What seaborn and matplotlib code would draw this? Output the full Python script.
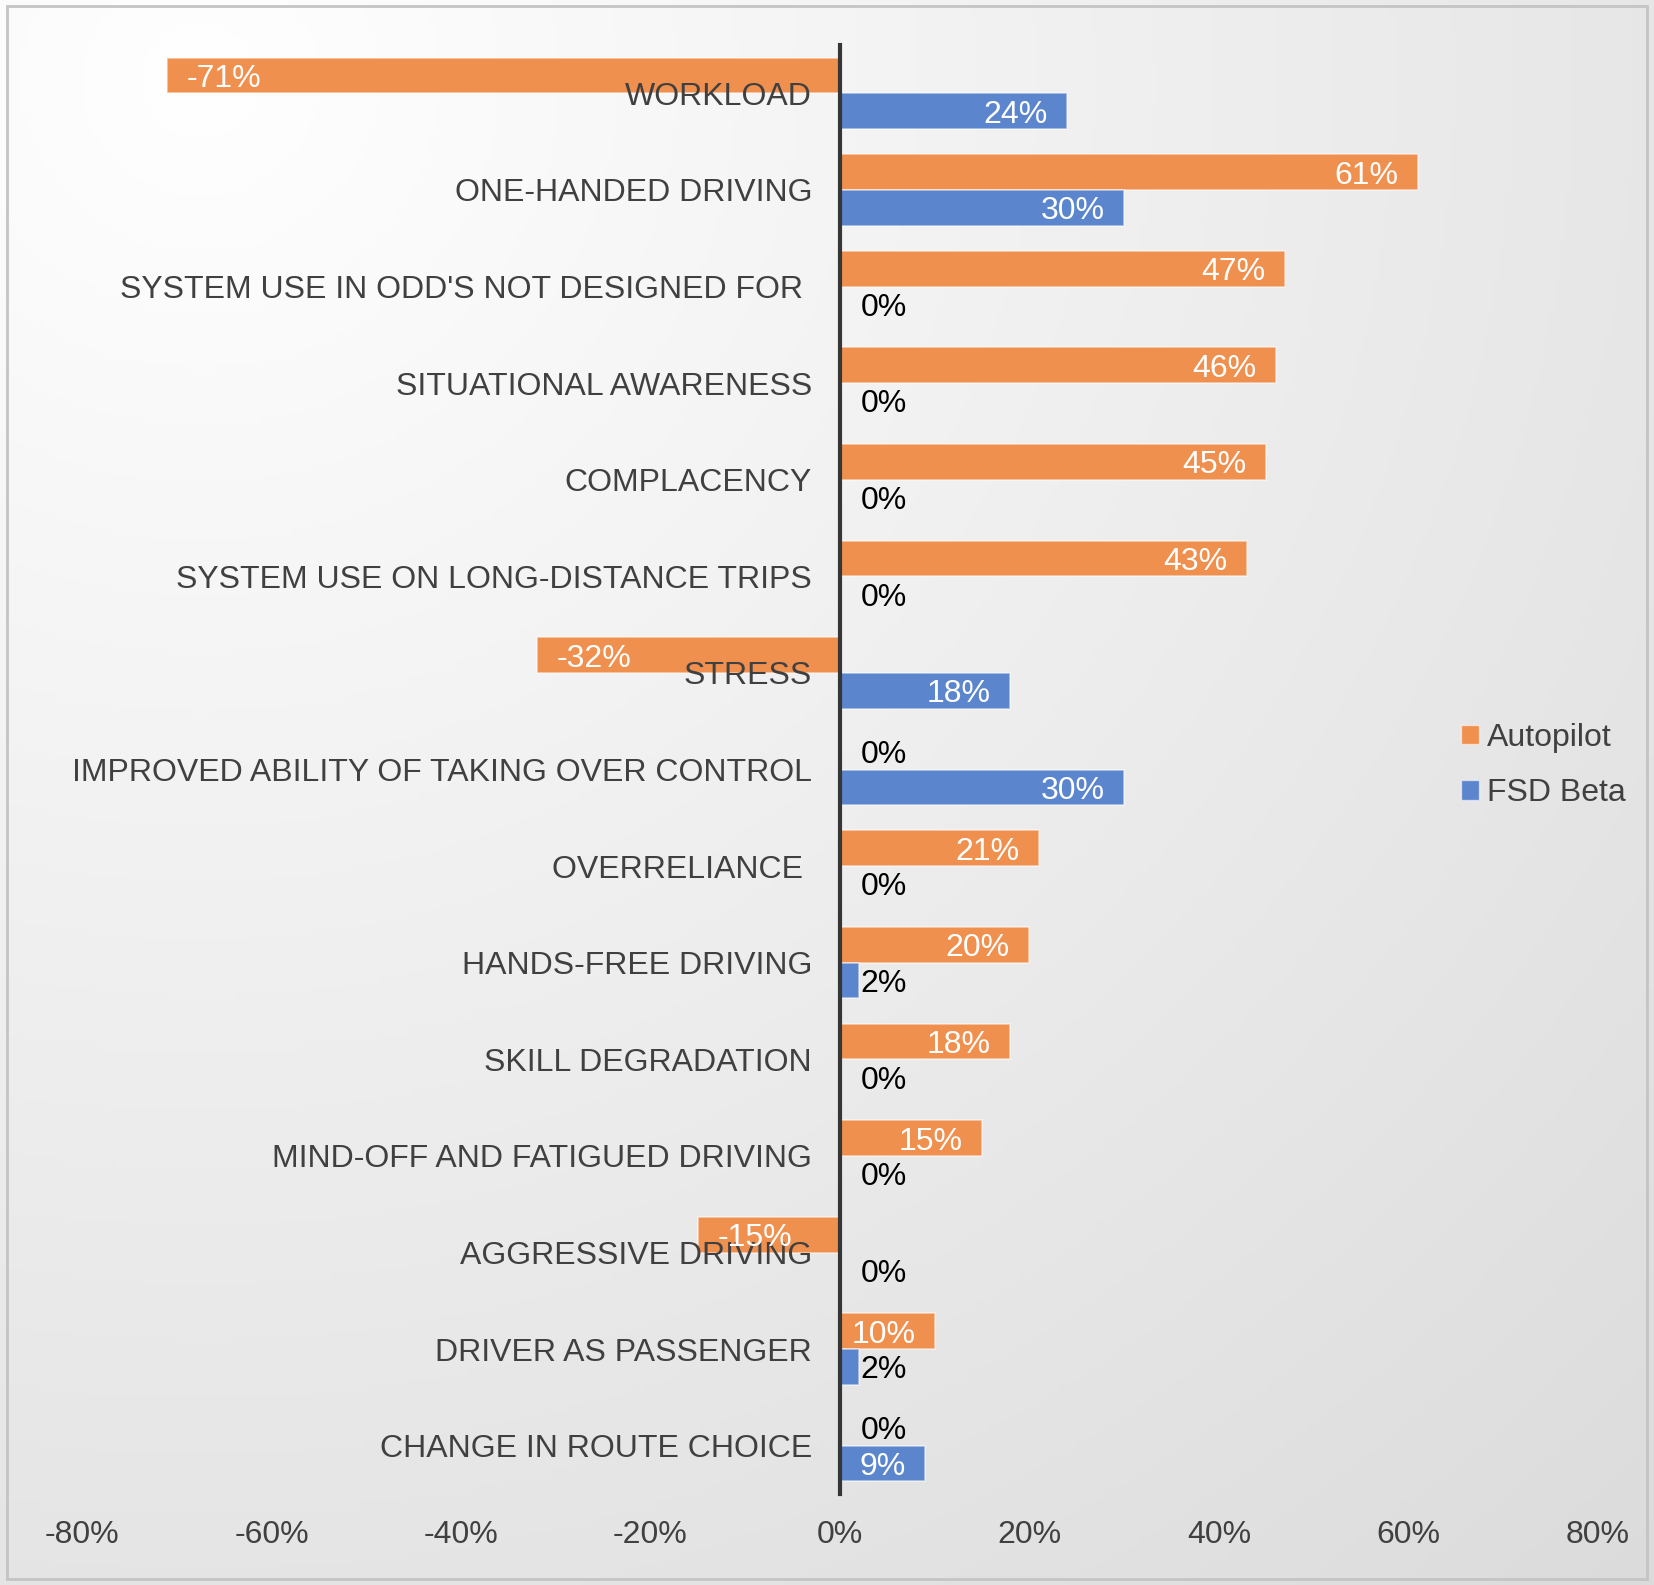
import numpy as np
import pandas as pd
import matplotlib.pyplot as plt
import seaborn as sns
from matplotlib.patches import Rectangle
from matplotlib.ticker import FuncFormatter

categories = [
    "WORKLOAD",
    "ONE-HANDED DRIVING",
    "SYSTEM USE IN ODD'S NOT DESIGNED FOR ",
    "SITUATIONAL AWARENESS",
    "COMPLACENCY",
    "SYSTEM USE ON LONG-DISTANCE TRIPS",
    "STRESS",
    "IMPROVED ABILITY OF TAKING OVER CONTROL",
    "OVERRELIANCE ",
    "HANDS-FREE DRIVING",
    "SKILL DEGRADATION",
    "MIND-OFF AND FATIGUED DRIVING",
    "AGGRESSIVE DRIVING",
    "DRIVER AS PASSENGER",
    "CHANGE IN ROUTE CHOICE",
]
autopilot = [-71, 61, 47, 46, 45, 43, -32, 0, 21, 20, 18, 15, -15, 10, 0]
fsd_beta = [24, 30, 0, 0, 0, 0, 18, 30, 0, 2, 0, 0, 0, 2, 9]
series = ["Autopilot", "FSD Beta"]
colors = ["#F0904F", "#5B86CD"]
x_ticks = [-80, -60, -40, -20, 0, 20, 40, 60, 80]

df = pd.DataFrame({
    "category": categories * 2,
    "value": autopilot + fsd_beta,
    "series": [series[0]] * len(categories) + [series[1]] * len(categories),
})

sns.set_style("white")
plt.rcParams["font.family"] = ["Liberation Sans", "DejaVu Sans"]

fig = plt.figure(figsize=(16.54, 15.85), dpi=100)

# soft grey gradient background like the Excel chart area
bg = fig.add_axes([0, 0, 1, 1], zorder=-10)
yy, xx = np.mgrid[0:1:300j, 0:1:300j]
d = np.sqrt((xx - 0.12) ** 2 + (yy - 0.05) ** 2) / 1.2
shade = np.clip(1.0 - 0.13 * d, 0, 1)
bg.imshow(np.dstack([shade] * 3), extent=[0, 1, 0, 1], origin="upper", aspect="auto")
bg.add_patch(Rectangle((0.004, 0.004), 0.992, 0.992, fill=False,
                       edgecolor="#c4c4c4", linewidth=2, transform=bg.transAxes))
bg.axis("off")

ax = fig.add_axes([0.0496, 0.0574, 0.9164, 0.9142])
ax.patch.set_alpha(0)

sns.barplot(data=df, y="category", x="value", hue="series", orient="h",
            palette=colors, saturation=1, width=0.74, ax=ax, legend=False,
            edgecolor=(1, 1, 1, 0.55), linewidth=1.2)

ax.set_xlim(-80, 80)
ax.set_ylim(len(categories) - 0.5, -0.5)
ax.set_xticks(x_ticks)
ax.xaxis.set_major_formatter(FuncFormatter(lambda v, p: f"{v:.0f}%"))
ax.set_xlabel("")
ax.set_ylabel("")

for s in ["top", "right", "bottom"]:
    ax.spines[s].set_visible(False)
ax.spines["left"].set_position(("data", 0))
ax.spines["left"].set_color("#363636")
ax.spines["left"].set_linewidth(3)
ax.set_axisbelow(False)
ax.tick_params(axis="y", length=0, pad=20, labelsize=23, labelcolor="#404040")
ax.tick_params(axis="x", length=0, pad=19, labelsize=23, labelcolor="#404040")

# data labels
for cont in ax.containers:
    for bar in cont:
        v = bar.get_width()
        yc = bar.get_y() + bar.get_height() / 2
        if v <= -5:
            ax.annotate(f"{v:.0f}%", (v, yc), xytext=(14, 0), textcoords="offset points",
                        ha="left", va="center_baseline", color="white", fontsize=23, zorder=4)
        elif v >= 5:
            ax.annotate(f"{v:.0f}%", (v, yc), xytext=(-14, 0), textcoords="offset points",
                        ha="right", va="center_baseline", color="white", fontsize=23, zorder=4)
        else:
            ax.annotate(f"{v:.0f}%", (0, yc), xytext=(15, 0), textcoords="offset points",
                        ha="left", va="center_baseline", color="black", fontsize=23, zorder=4)

handles = [Rectangle((0, 0), 1, 1, facecolor=c, edgecolor=(1, 1, 1, 0.55)) for c in colors]
fig.legend(handles, series, loc="center left", bbox_to_anchor=(0.866, 0.517),
           frameon=False, fontsize=23, handlelength=0.55, handleheight=0.55,
           handletextpad=0.25, labelspacing=0.8, labelcolor="#404040")

fig.savefig("out.png", dpi=100)
